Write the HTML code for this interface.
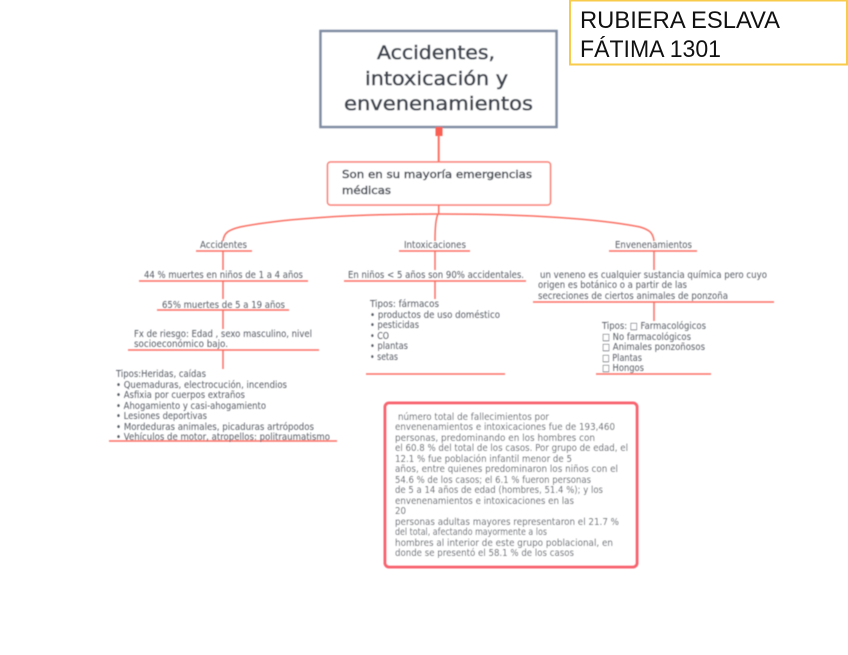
<!DOCTYPE html>
<html><head><meta charset="utf-8"><style>
html,body{margin:0;padding:0;background:#fff;width:848px;height:655px;overflow:hidden}
svg{display:block}
text{font-family:"DejaVu Sans","Liberation Sans",sans-serif;fill:#555a62;font-size:9.5px}
.t{fill:#3f4550;font-size:19px;stroke:#3f4550;stroke-width:.55px}
.b{font-size:10.5px;fill:#444a53;stroke:#444a53;stroke-width:.45px}
.r{font-family:"Liberation Sans",sans-serif;font-size:24px;fill:#111}
.l{stroke:#fa6e62;fill:none;stroke-width:1.5}
</style></head><body>
<svg width="848" height="655" viewBox="0 0 848 655" xmlns="http://www.w3.org/2000/svg">
<defs><filter id="bl" x="-5%" y="-5%" width="110%" height="110%"><feGaussianBlur stdDeviation="0.45"/></filter></defs>
<rect x="570" y="0.5" width="277" height="64" fill="#fff" stroke="#f9cb4a" stroke-width="2"/>
<text class="r" x="580" y="28" textLength="200" lengthAdjust="spacingAndGlyphs">RUBIERA ESLAVA</text>
<text class="r" x="580" y="57" textLength="141" lengthAdjust="spacingAndGlyphs">FÁTIMA 1301</text>
<g filter="url(#bl)">
<rect x="320.5" y="31" width="236" height="96" fill="#fff" stroke="#7f8ca2" stroke-width="2.5"/>
<text class="t" x="377" y="59" textLength="118" lengthAdjust="spacingAndGlyphs">Accidentes,</text>
<text class="t" x="365" y="85" textLength="143" lengthAdjust="spacingAndGlyphs">intoxicación y</text>
<text class="t" x="344" y="110" textLength="189" lengthAdjust="spacingAndGlyphs">envenenamientos</text>

<rect x="435.5" y="127" width="7" height="9" fill="#fb5f52"/>
<path d="M438.7 135V162" stroke="#fa6e62" stroke-width="2" fill="none"/>
<rect x="327.5" y="162" width="223" height="43" rx="3" fill="#fff" stroke="#fa7a6f" stroke-width="1.5"/>
<text class="b" x="342" y="178" textLength="190" lengthAdjust="spacingAndGlyphs">Son en su mayoría emergencias</text>
<text class="b" x="342" y="194" textLength="49" lengthAdjust="spacingAndGlyphs">médicas</text>

<path class="l" d="M438.7 205V214"/>
<path class="l" d="M223 241C224 233 228 230 240 227C280 219 350 214 438 214C530 214 600 219 640 227C650 230 653 233 654 241"/>
<path class="l" d="M438 214Q435 220 435 241"/>

<!-- Accidentes column -->
<text x="200" y="248" textLength="47" lengthAdjust="spacingAndGlyphs">Accidentes</text>
<path class="l" d="M196 251H252M223 251V270M139 281H308M223 281V299M157 310H289M223 310V329M128 350H319M223 350V369M109 441H337"/>
<text x="144" y="278" textLength="159" lengthAdjust="spacingAndGlyphs">44 % muertes en niños de 1 a 4 años</text>
<text x="162" y="308" textLength="123" lengthAdjust="spacingAndGlyphs">65% muertes de 5 a 19 años</text>
<text x="134" y="337" textLength="178" lengthAdjust="spacingAndGlyphs">Fx de riesgo: Edad , sexo masculino, nivel</text>
<text x="134" y="347" textLength="94" lengthAdjust="spacingAndGlyphs">socioeconómico bajo.</text>
<text x="116" y="377" textLength="90" lengthAdjust="spacingAndGlyphs">Tipos:Heridas, caídas</text>
<text x="116" y="388" textLength="171" lengthAdjust="spacingAndGlyphs">• Quemaduras, electrocución, incendios</text>
<text x="116" y="398" textLength="129" lengthAdjust="spacingAndGlyphs">• Asfixia por cuerpos extraños</text>
<text x="116" y="409" textLength="150" lengthAdjust="spacingAndGlyphs">• Ahogamiento y casi-ahogamiento</text>
<text x="116" y="419" textLength="91" lengthAdjust="spacingAndGlyphs">• Lesiones deportivas</text>
<text x="116" y="430" textLength="198" lengthAdjust="spacingAndGlyphs">• Mordeduras animales, picaduras artrópodos</text>
<text x="116" y="440" textLength="214" lengthAdjust="spacingAndGlyphs">• Vehículos de motor, atropellos: politraumatismo</text>

<!-- Intoxicaciones column -->
<text x="404" y="248" textLength="62" lengthAdjust="spacingAndGlyphs">Intoxicaciones</text>
<path class="l" d="M399 251H470M435 251V270M344 281H526M435 281V299M366 374H505"/>
<text x="348" y="278" textLength="176" lengthAdjust="spacingAndGlyphs">En niños &lt; 5 años son 90% accidentales.</text>
<text x="370" y="307" textLength="69" lengthAdjust="spacingAndGlyphs">Tipos: fármacos</text>
<text x="370" y="318" textLength="130" lengthAdjust="spacingAndGlyphs">• productos de uso doméstico</text>
<text x="370" y="328" textLength="49" lengthAdjust="spacingAndGlyphs">• pesticidas</text>
<text x="370" y="339" textLength="19" lengthAdjust="spacingAndGlyphs">• CO</text>
<text x="370" y="349" textLength="38" lengthAdjust="spacingAndGlyphs">• plantas</text>
<text x="370" y="360" textLength="28" lengthAdjust="spacingAndGlyphs">• setas</text>

<!-- Envenenamientos column -->
<text x="615" y="248" textLength="77" lengthAdjust="spacingAndGlyphs">Envenenamientos</text>
<path class="l" d="M609 251H697M654 251V270M533 302H774M654 302V321M596 374H711"/>
<text x="540" y="278" textLength="227" lengthAdjust="spacingAndGlyphs">un veneno es cualquier sustancia química pero cuyo</text>
<text x="538" y="288" textLength="149" lengthAdjust="spacingAndGlyphs">origen es botánico o a partir de las</text>
<text x="538" y="299" textLength="190" lengthAdjust="spacingAndGlyphs">secreciones de ciertos animales de ponzoña</text>
<text x="602" y="329" textLength="104" lengthAdjust="spacingAndGlyphs">Tipos: □ Farmacológicos</text>
<text x="602" y="340" textLength="89" lengthAdjust="spacingAndGlyphs">□ No farmacológicos</text>
<text x="602" y="350" textLength="103" lengthAdjust="spacingAndGlyphs">□ Animales ponzoñosos</text>
<text x="602" y="361" textLength="40" lengthAdjust="spacingAndGlyphs">□ Plantas</text>
<text x="602" y="371" textLength="42" lengthAdjust="spacingAndGlyphs">□ Hongos</text>

<!-- Bottom box -->
<rect x="385" y="403" width="252" height="164" rx="4" fill="#fff" stroke="#f8636f" stroke-width="3"/>
<text x="398" y="420" textLength="151" lengthAdjust="spacingAndGlyphs">número total de fallecimientos por</text>
<text x="395" y="430" textLength="220" lengthAdjust="spacingAndGlyphs">envenenamientos e intoxicaciones fue de 193,460</text>
<text x="395" y="441" textLength="200" lengthAdjust="spacingAndGlyphs">personas, predominando en los hombres con</text>
<text x="395" y="451" textLength="233" lengthAdjust="spacingAndGlyphs">el 60.8 % del total de los casos. Por grupo de edad, el</text>
<text x="395" y="462" textLength="177" lengthAdjust="spacingAndGlyphs">12.1 % fue población infantil menor de 5</text>
<text x="395" y="472" textLength="223" lengthAdjust="spacingAndGlyphs">años, entre quienes predominaron los niños con el</text>
<text x="395" y="483" textLength="196" lengthAdjust="spacingAndGlyphs">54.6 % de los casos; el 6.1 % fueron personas</text>
<text x="395" y="493" textLength="208" lengthAdjust="spacingAndGlyphs">de 5 a 14 años de edad (hombres, 51.4 %); y los</text>
<text x="395" y="504" textLength="179" lengthAdjust="spacingAndGlyphs">envenenamientos e intoxicaciones en las</text>
<text x="395" y="514" textLength="11" lengthAdjust="spacingAndGlyphs">20</text>
<text x="395" y="525" textLength="224" lengthAdjust="spacingAndGlyphs">personas adultas mayores representaron el 21.7 %</text>
<text x="395" y="535" textLength="152" lengthAdjust="spacingAndGlyphs">del total, afectando mayormente a los</text>
<text x="395" y="546" textLength="218" lengthAdjust="spacingAndGlyphs">hombres al interior de este grupo poblacional, en</text>
<text x="395" y="556" textLength="179" lengthAdjust="spacingAndGlyphs">donde se presentó el 58.1 % de los casos</text>
</g>
</svg>
</body></html>
